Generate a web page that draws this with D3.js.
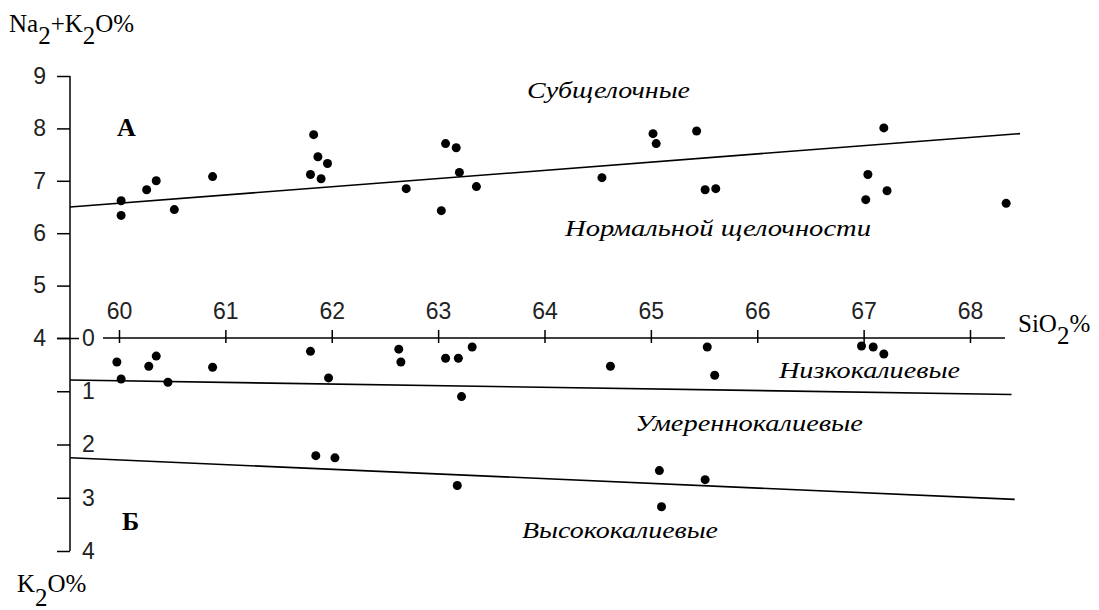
<!DOCTYPE html>
<html><head><meta charset="utf-8">
<script src="https://cdn.jsdelivr.net/npm/d3@7"></script>
<style>body{margin:0;background:#fff}svg{display:block}</style>
</head><body>
<svg id="c" width="1099" height="610"></svg>
<script>
// Upper diagram: SiO2 vs Na2O+K2O
const upperSiO2 = [60.02,60.02,60.26,60.35,60.52,60.88,61.83,61.87,61.96,61.80,61.90,62.70,63.07,63.17,63.20,63.36,63.03,64.54,65.02,65.05,65.43,65.51,65.61,67.19,67.04,67.22,67.02,68.34];
const upperAlk  = [6.62,6.34,6.83,7.00,6.45,7.08,7.88,7.46,7.33,7.12,7.04,6.85,7.71,7.63,7.16,6.89,6.43,7.06,7.90,7.71,7.95,6.83,6.85,8.01,7.12,6.81,6.64,6.57];
// Lower diagram: SiO2 vs K2O
const lowerSiO2 = [59.98,60.02,60.28,60.35,60.46,60.88,61.80,61.97,62.63,62.65,63.07,63.19,63.32,63.22,64.62,65.53,65.60,66.98,67.09,67.19,61.85,62.03,63.18,65.08,65.10,65.51];
const lowerK2O  = [0.45,0.77,0.53,0.34,0.83,0.55,0.25,0.75,0.21,0.45,0.38,0.38,0.17,1.10,0.53,0.17,0.70,0.15,0.17,0.30,2.21,2.25,2.77,2.49,3.17,2.66];
// Boundary lines [SiO2 start, value start, SiO2 end, value end]
const upperBoundary = [59.54, 6.5, 68.47, 7.9];
const lowerBoundary1 = [59.54, 0.79, 68.39, 1.06];
const lowerBoundary2 = [59.54, 2.25, 68.42, 3.03];
const xTicks = [60,61,62,63,64,65,66,67,68];
const upperTicks = [4,5,6,7,8,9];
const lowerTicks = [0,1,2,3,4];

const svg = d3.select('#c');
const x = d3.scaleLinear().domain([60,68]).range([119,970]);
const yU = d3.scaleLinear().domain([4,9]).range([338,76]);
const yL = d3.scaleLinear().domain([0,4]).range([338,551]);
const axX = 70;
const numFont = "'Liberation Sans', Arial, sans-serif";
const serif = "'Liberation Serif', 'Times New Roman', serif";

// vertical axis line
svg.append('line').attr('x1',axX).attr('x2',axX).attr('y1',yU(9)).attr('y2',yL(4)).attr('stroke','#000').attr('stroke-width',1.5);

// upper y axis
const gU = svg.append('g').attr('transform',`translate(${axX},0)`)
  .call(d3.axisLeft(yU).tickValues(upperTicks).tickSize(13).tickPadding(11).tickFormat(d3.format('d')));
gU.select('.domain').remove();
gU.selectAll('line').attr('stroke-width',1.5);
gU.selectAll('text').attr('font-family',numFont).attr('font-size',23).attr('fill','#222');

// lower y axis (ticks left, labels right)
const gL = svg.append('g').attr('transform',`translate(${axX},0)`)
  .call(d3.axisLeft(yL).tickValues(lowerTicks).tickSize(13).tickFormat(d3.format('d')));
gL.select('.domain').remove();
gL.selectAll('line').attr('stroke-width',1.5);
gL.selectAll('text').attr('x',12).attr('text-anchor','start')
  .attr('font-family',numFont).attr('font-size',23).attr('fill','#222');
gL.selectAll('.tick').filter(d=>d===0).select('line').attr('x2',-13).attr('x1',9);

// x axis
svg.append('line').attr('x1',103).attr('x2',1005).attr('y1',338).attr('y2',338).attr('stroke','#000').attr('stroke-width',1.5);
const gX = svg.append('g').attr('transform','translate(0,338)')
  .call(d3.axisTop(x).tickValues(xTicks).tickSize(8).tickPadding(11).tickFormat(d3.format('d')));
gX.select('.domain').remove();
gX.selectAll('.tick line').attr('y2',5).attr('y1',-8).attr('stroke-width',1.5);
gX.selectAll('text').attr('font-family',numFont).attr('font-size',23).attr('fill','#222');

// boundary lines
function bl(b, ys){
  svg.append('line').attr('x1',x(b[0])).attr('y1',ys(b[1])).attr('x2',x(b[2])).attr('y2',ys(b[3]))
    .attr('stroke','#000').attr('stroke-width',1.6);
}
bl(upperBoundary, yU); bl(lowerBoundary1, yL); bl(lowerBoundary2, yL);

// points
svg.append('g').selectAll('circle').data(upperSiO2.map((s,i)=>[s,upperAlk[i]])).join('circle')
  .attr('cx',d=>x(d[0])).attr('cy',d=>yU(d[1])).attr('r',4.5).attr('fill','#000');
svg.append('g').selectAll('circle').data(lowerSiO2.map((s,i)=>[s,lowerK2O[i]])).join('circle')
  .attr('cx',d=>x(d[0])).attr('cy',d=>yL(d[1])).attr('r',4.5).attr('fill','#000');

// field labels
const fields = [
  {t:'Субщелочные', x:527, y:98, w:163},
  {t:'Нормальной щелочности', x:565, y:236, w:306},
  {t:'Низкокалиевые', x:779, y:378, w:181},
  {t:'Умереннокалиевые', x:635, y:431, w:228},
  {t:'Высококалиевые', x:522, y:538, w:196}
];
svg.append('g').selectAll('text').data(fields).join('text')
  .attr('x',d=>d.x).attr('y',d=>d.y).text(d=>d.t)
  .attr('textLength',d=>d.w).attr('lengthAdjust','spacingAndGlyphs')
  .attr('font-family',serif).attr('font-style','italic').attr('font-size',23).attr('fill','#000');

// panel letters
svg.append('text').attr('x',117).attr('y',136).text('А').attr('font-family',serif).attr('font-weight','bold').attr('font-size',26);
svg.append('text').attr('x',122).attr('y',530).text('Б').attr('font-family',serif).attr('font-weight','bold').attr('font-size',26);

// axis titles
function title(px, py, parts){
  const t = svg.append('text').attr('x',px).attr('y',py).attr('font-family',serif).attr('font-size',25).attr('fill','#000');
  parts.forEach(p=>{
    t.append('tspan').text(p[0]).attr('dy',p[1]);
  });
}
title(9, 32, [['Na',0],['2',12],['+K',-12],['2',12],['O%',-12]]);
title(17, 592, [['K',0],['2',14],['O%',-14]]);
title(1018, 332, [['SiO',0],['2',12],['%',-12]]);
</script>
</body></html>
